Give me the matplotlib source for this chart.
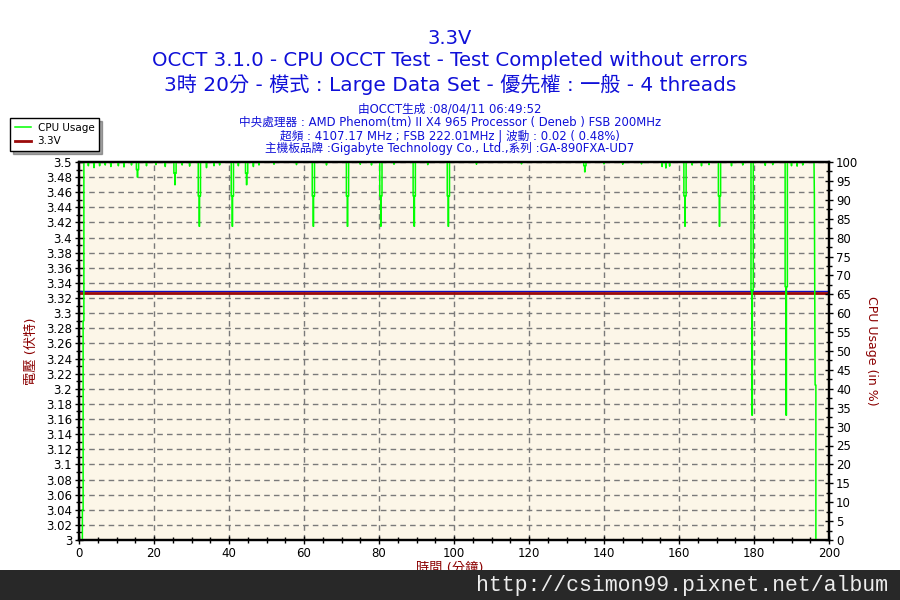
import matplotlib
matplotlib.use("Agg")
import matplotlib.pyplot as plt
from matplotlib.ticker import MultipleLocator, FuncFormatter
from matplotlib.patches import Rectangle

FAM = ['DejaVu Sans', 'Noto Sans CJK TC']
plt.rcParams['font.family'] = FAM

# ---------------- data ----------------
# start of the run
start_t = [0.9, 0.9, 1.1, 1.1, 1.3, 1.3]
start_v = [0, 8, 8, 58, 58, 100]

# small wiggles near the top (minutes, % usage)
wig_t = [2.5, 4.0, 5.5, 7.0, 8.5, 10.5, 12.0, 14.0, 18.0, 20.5, 23.0, 27.5, 29.5,
         34.0, 36.0, 37.5, 42.5, 46.5, 48.0, 52.0, 58.0, 66.0, 75.0, 78.0, 84.0,
         93.0, 106.0, 118.0, 140.0, 145.0, 150.0, 155.5, 156.5, 157.5, 163.5,
         166.0, 168.0, 174.0, 177.0, 183.0, 185.0, 190.0, 191.5, 193.0]
wig_v = [99, 98.5, 99, 99.2, 98.8, 99, 98.7, 99.2, 99, 99.3, 98.8, 99.2, 98.9,
         98.5, 99, 99.2, 99, 98.8, 99.2, 99.4, 99.3, 99.2, 99.4, 99.2, 99.4,
         99.3, 99.4, 99.5, 99.5, 99.4, 99.5, 98.8, 98.4, 98.9, 99.2,
         99.0, 99.3, 99.0, 99.2, 99.1, 99.3, 99.0, 98.9, 99.2]

# dips (minutes, intermediate %, lowest %)
dip_t = [15.6, 25.6, 32.1, 40.9, 44.7, 62.5, 71.6, 80.5, 89.4, 98.5, 134.9,
         161.6, 170.8, 179.5, 188.6]
dip_mid = [98, 97, 91, 91, 97, 91, 91, 91, 91, 91, 99, 91, 91, 66, 67]
dip_low = [96, 94, 83, 83, 94, 83, 83, 83, 83, 83, 97.4, 83, 83, 33, 33]

# end of the run
end_t = [196.0, 196.1, 196.3, 196.5, 196.5]
end_v = [100, 91, 41, 41, 0]

# voltage
volt_t = [0, 200]
volt_v = [3.3272, 3.3272]
volt_max = [3.3292, 3.3292]

# ---------------- build CPU polyline ----------------
events = []
for t, v in zip(wig_t, wig_v):
    events.append((t, [(t - 0.12, 100), (t, v), (t + 0.12, 100)]))
for t, m, lo in zip(dip_t, dip_mid, dip_low):
    events.append((t, [(t - 0.3, 100), (t - 0.3, m), (t - 0.05, m), (t - 0.05, lo),
                       (t + 0.05, lo), (t + 0.05, m), (t + 0.3, m), (t + 0.3, 100)]))
events.sort(key=lambda e: e[0])
cpu_t = list(start_t)
cpu_v = list(start_v)
for _, pts in events:
    for a, b in pts:
        cpu_t.append(a)
        cpu_v.append(b)
cpu_t += end_t
cpu_v += end_v

# ---------------- figure ----------------
fig = plt.figure(figsize=(9, 6), dpi=100)
fig.patch.set_facecolor('white')
ax = fig.add_axes([79 / 900, 1 - 540 / 600, 750 / 900, 378 / 600])
ax.set_facecolor('#FCF6E8')
ax2 = ax.twinx()

ax.set_xlim(0, 200)
ax.set_ylim(3.0, 3.5)
ax2.set_ylim(0, 100)

ax.xaxis.set_major_locator(MultipleLocator(20))
ax.xaxis.set_minor_locator(MultipleLocator(5))
ax.yaxis.set_major_locator(MultipleLocator(0.02))
ax.yaxis.set_minor_locator(MultipleLocator(0.01))
ax2.yaxis.set_major_locator(MultipleLocator(5))
ax2.yaxis.set_minor_locator(MultipleLocator(2.5))
ax.yaxis.set_major_formatter(FuncFormatter(lambda v, p: ('%.2f' % v).rstrip('0').rstrip('.')))
ax.xaxis.set_major_formatter(FuncFormatter(lambda v, p: '%d' % v))
ax2.yaxis.set_major_formatter(FuncFormatter(lambda v, p: '%d' % v))

ax.grid(True, which='major', color='#7a7a7a', linestyle=(0, (4, 3)), linewidth=1)
ax.set_axisbelow(True)

for a in (ax, ax2):
    for s in a.spines.values():
        s.set_color('black')
        s.set_linewidth(1.6)
ax.tick_params(axis='both', which='major', direction='inout', length=6, width=1,
               labelsize=8.5, colors='black', pad=2)
ax.tick_params(axis='both', which='minor', direction='inout', length=4, width=1)
ax2.tick_params(axis='y', which='major', direction='inout', length=6, width=1,
                labelsize=8.5, colors='black', pad=2)
ax2.tick_params(axis='y', which='minor', direction='inout', length=4, width=1)

ax.plot(volt_t, volt_max, color='#1010C0', linewidth=1.0, zorder=2)
lv, = ax.plot(volt_t, volt_v, color='#9B0A0A', linewidth=2, label='3.3V', zorder=3)
lc, = ax2.plot(cpu_t, cpu_v, color='#00FF00', linewidth=1.1, label='CPU Usage')

ax.set_ylabel('電壓 (伏特)', color='#8B0000', fontsize=9.5, family=FAM, labelpad=6)
ax2.set_ylabel('CPU Usage (in %)', color='#8B0000', fontsize=9, rotation=-90,
               labelpad=14)

# titles
blue = '#1010D8'
fig.text(0.5, 1 - 38 / 600, '3.3V', ha='center', va='center', fontsize=14, color=blue)
fig.text(0.5, 1 - 61 / 600, 'OCCT 3.1.0 - CPU OCCT Test - Test Completed without errors',
         ha='center', va='center', fontsize=14.2, color=blue)
fig.text(0.5, 1 - 84 / 600, '3時 20分 - 模式 : Large Data Set - 優先權 : 一般 - 4 threads',
         ha='center', va='center', fontsize=14.5, color=blue)
info = ['由OCCT生成 :08/04/11 06:49:52',
        '中央處理器 : AMD Phenom(tm) II X4 965 Processor ( Deneb ) FSB 200MHz',
        '超頻 : 4107.17 MHz ; FSB 222.01MHz | 波動 : 0.02 ( 0.48%)',
        '主機板品牌 :Gigabyte Technology Co., Ltd.,系列 :GA-890FXA-UD7']
for i, s in enumerate(info):
    fig.text(0.5, 1 - (109 + 13.3 * i) / 600, s, ha='center', va='center',
             fontsize=8.4, color=blue)

# legend
leg = fig.legend([lc, lv], ['CPU Usage', '3.3V'], loc='upper left',
                 bbox_to_anchor=(10 / 900, 1 - 118 / 600), fontsize=7.5,
                 frameon=True, fancybox=False, shadow=True, handlelength=1.6,
                 handletextpad=0.6, borderpad=0.45, labelspacing=0.35,
                 borderaxespad=0)
leg.get_frame().set_edgecolor('black')
leg.get_frame().set_linewidth(1)

# x label and watermark band
fig.text(450 / 900, 1 - 568 / 600, '時間 (分鐘)', ha='center', va='center',
         fontsize=9.5, color='#8B0000')
fig.patches.append(Rectangle((0, 0), 1, 30 / 600, transform=fig.transFigure,
                             facecolor='#282828', edgecolor='none', zorder=10))
fig.text(888 / 900, 1 - 585 / 600, 'http://csimon99.pixnet.net/album', ha='right',
         va='center', fontsize=15.5, color='#EDEDED', family='Liberation Mono',
         zorder=11)

fig.savefig('out.png', dpi=100)
